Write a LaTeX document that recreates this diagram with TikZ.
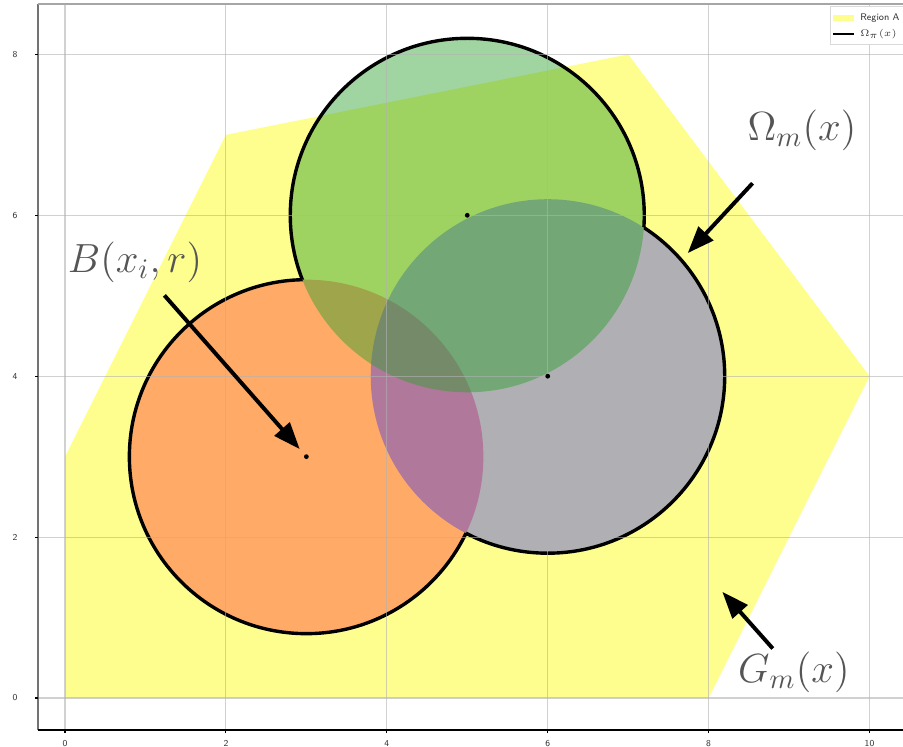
\documentclass[tikz,border=0pt]{standalone}
\usepackage{tikz}
\usetikzlibrary{arrows.meta, positioning}
\definecolor{regionyellow}{RGB}{254,254,142}
\definecolor{ballorange}{RGB}{255,170,102}
\definecolor{ballblue}{RGB}{25,25,255}
\definecolor{ballgreen}{RGB}{44,160,44}
\definecolor{labelgray}{RGB}{85,85,85}

\begin{document}
\begin{tikzpicture}[
    rim/.style={draw=black, line width=1.2pt},
    pointer/.style={line width=1.4pt, -{Triangle[length=9.5pt,width=7pt]}, black},
    lbl/.style={text=labelgray, font=\fontsize{14.5}{17}\selectfont, inner sep=1pt},
    ticklbl/.style={font=\sffamily\fontsize{3.2}{4}\selectfont, text=black!80, inner sep=0pt},
    leglbl/.style={font=\sffamily\fontsize{5}{6}\selectfont, text=black!80, inner sep=0pt, anchor=west, scale=0.68, transform shape},
    gridline/.style={black!30, line width=0.4pt, opacity=0.6},
    dot/.style={circle, fill=black, inner sep=0pt, minimum size=1.7pt}
]
    \useasboundingbox (-0.808,-0.597) rectangle (10.416,8.676);

    \fill[regionyellow] (0,0) -- (0,3) -- (2,7) -- (7,8) -- (10,4) -- (8,0) -- cycle;

    \fill[ballorange] (3,3) circle (2.2);
    \fill[ballblue, opacity=0.34] (6,4) circle (2.2);
    \fill[ballgreen, opacity=0.45] (5,6) circle (2.2);

    \begin{scope}[even odd rule]
        \clip (-1,-1) rectangle (11,9) (6,4) circle (2.2);
        \clip (-1,-1) rectangle (11,9) (5,6) circle (2.2);
        \draw[rim] (3,3) circle (2.2);
    \end{scope}
    \begin{scope}[even odd rule]
        \clip (-1,-1) rectangle (11,9) (3,3) circle (2.2);
        \clip (-1,-1) rectangle (11,9) (5,6) circle (2.2);
        \draw[rim] (6,4) circle (2.2);
    \end{scope}
    \begin{scope}[even odd rule]
        \clip (-1,-1) rectangle (11,9) (3,3) circle (2.2);
        \clip (-1,-1) rectangle (11,9) (6,4) circle (2.2);
        \draw[rim] (5,6) circle (2.2);
    \end{scope}

    \foreach \gx in {0,2,...,10}
        \draw[gridline] (\gx,-0.4) -- (\gx,8.63);
    \foreach \gy in {0,2,...,8}
        \draw[gridline] (-0.336,\gy) -- (10.5,\gy);

    \draw[black!55, line width=0.6pt] (-0.336,-0.4) -- (-0.336,8.63);
    \draw[black!35, line width=0.6pt] (-0.336,8.63) -- (10.5,8.63);
    \draw[black, line width=0.7pt] (-0.336,-0.4) -- (10.5,-0.4);
    \foreach \gx in {0,2,...,10} {
        \draw[black, line width=0.4pt] (\gx,-0.4) -- (\gx,-0.44);
        \node[ticklbl] (xt\gx) at (\gx,-0.56) {\gx};
    }
    \foreach \gy in {0,2,...,8} {
        \draw[black, line width=0.4pt] (-0.336,\gy) -- (-0.376,\gy);
        \node[ticklbl] (yt\gy) at (-0.62,\gy) {\gy};
    }

    \node[dot] (cB) at (3,3) {};
    \node[dot] (cG) at (5,6) {};
    \node[dot] (cO) at (6,4) {};

    \node[lbl] (lblB) at (0.87,5.42) {$B(x_i,r)$};
    \node[lbl] (lblO) at (9.16,7.06) {$\Omega_m(x)$};
    \node[lbl] (lblG) at (9.06,0.32) {$G_m(x)$};
    \coordinate (tipO) at (7.74,5.53);
    \coordinate (tipG) at (8.17,1.32);

    \draw[pointer, shorten <=0.16cm, shorten >=2.5pt] (lblB) -- (cB);
    \draw[pointer, shorten <=0.5cm] (lblO) -- (tipO);
    \draw[pointer] (lblG) -- (tipG);

    \draw[black!15, fill=white, line width=0.3pt] (9.51,8.13) rectangle (10.6,8.6);
    \fill[regionyellow] (9.546,8.42) rectangle (9.807,8.49);
    \draw[black, line width=1pt] (9.546,8.254) -- (9.807,8.254);
    \node[leglbl] (legA) at (9.88,8.455) {Region A};
    \node[leglbl] (legO) at (9.88,8.254) {$\Omega_\pi(x)$};
\end{tikzpicture}
\end{document}
